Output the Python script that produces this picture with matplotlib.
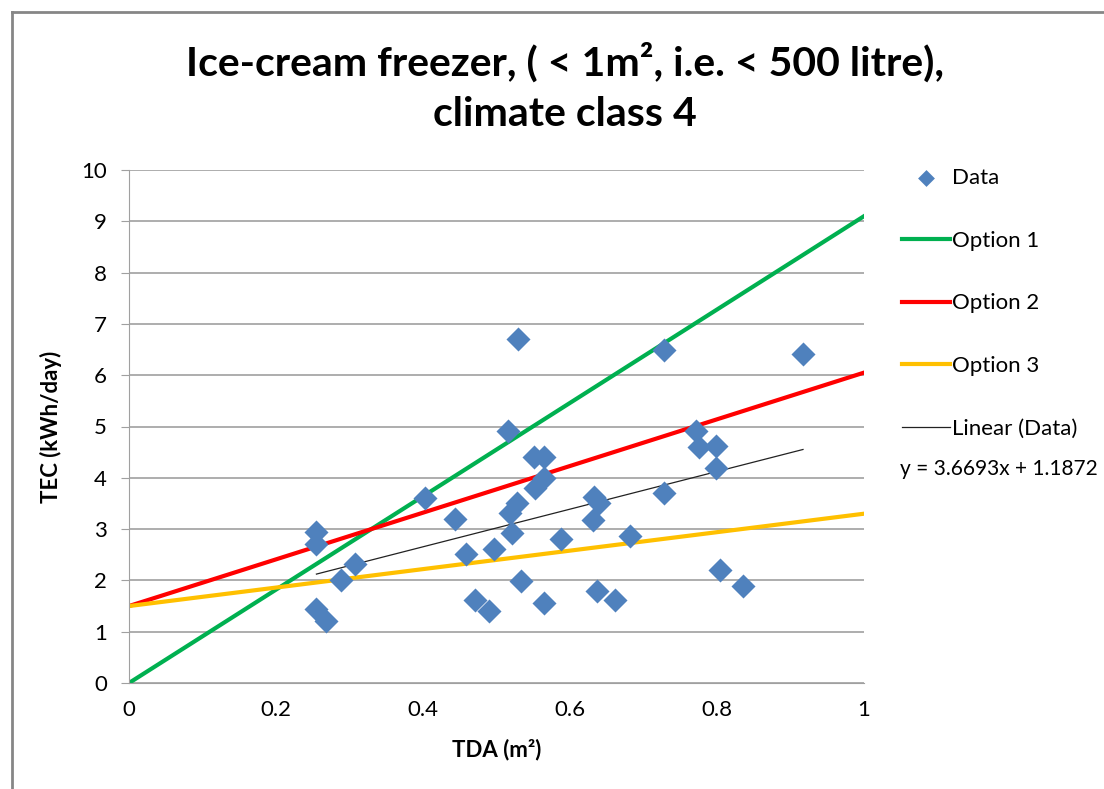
import matplotlib.pyplot as plt
from matplotlib.lines import Line2D

# TDA (m2) and TEC (kWh/day)
tda = [0.529, 0.516, 0.551, 0.565, 0.564, 0.552, 0.403, 0.528, 0.518, 0.632,
       0.639, 0.631, 0.4435, 0.521, 0.255, 0.255, 0.588, 0.3075, 0.458, 0.4966,
       0.288, 0.534, 0.255, 0.268, 0.471, 0.490, 0.565, 0.637, 0.661,
       0.728, 0.917, 0.771, 0.776, 0.799, 0.798, 0.728, 0.682, 0.804, 0.835]
tec = [6.71, 4.92, 4.41, 4.41, 4.00, 3.81, 3.61, 3.51, 3.32, 3.63,
       3.50, 3.18, 3.20, 2.93, 2.94, 2.71, 2.80, 2.32, 2.51, 2.62,
       2.01, 1.99, 1.44, 1.21, 1.62, 1.41, 1.55, 1.80, 1.62,
       6.49, 6.41, 4.92, 4.61, 4.62, 4.20, 3.71, 2.87, 2.20, 1.89]

# option lines, end points at TDA = 0 and 1
opt_x = [0, 1]
opt1_y = [0.0, 9.1]
opt2_y = [1.5, 6.05]
opt3_y = [1.5, 3.3]

# Excel linear trendline
slope, intercept = 3.6693, 1.1872

plt.rcParams['font.family'] = ['Lato', 'DejaVu Sans']

fig = plt.figure(figsize=(11.04, 7.89), dpi=100)
ax = fig.add_axes([129 / 1104, 1 - 683 / 789, 735 / 1104, 513 / 789])

ax.plot(opt_x, opt1_y, color='#00b050', lw=3, label='Option 1', zorder=2)
ax.plot(opt_x, opt2_y, color='#ff0000', lw=3, label='Option 2', zorder=2)
ax.plot(opt_x, opt3_y, color='#ffc000', lw=3, label='Option 3', zorder=2)

tx = [min(tda), max(tda)]
ty = [slope * v + intercept for v in tx]
ax.plot(tx, ty, color='#222222', lw=0.9, label='Linear (Data)', zorder=3)

ax.scatter(tda, tec, marker='D', s=150, color='#4f81bd', linewidths=0,
           label='Data', zorder=4)

ax.set_xlim(0, 1)
ax.set_ylim(0, 10)
ax.set_xticks([0, 0.2, 0.4, 0.6, 0.8, 1])
ax.set_xticklabels(['0', '0.2', '0.4', '0.6', '0.8', '1'])
ax.set_yticks(range(0, 11))
ax.grid(axis='y', color='#a0a0a0', lw=1.2)
ax.set_axisbelow(True)
for s in ['top', 'right']:
    ax.spines[s].set_visible(False)
ax.spines['left'].set_color('#a0a0a0')
ax.spines['bottom'].set_color('#a0a0a0')
ax.tick_params(axis='y', length=6, color='#a0a0a0', labelsize=16, pad=10)
ax.tick_params(axis='x', length=0, labelsize=16, pad=12)

ax.set_xlabel('TDA (m²)', fontsize=16, fontweight='bold', labelpad=14)
ax.set_ylabel('TEC (kWh/day)', fontsize=16, fontweight='bold', labelpad=14)

fig.text(565 / 1104, 1 - 62 / 789, 'Ice-cream freezer, ( < 1m², i.e. < 500 litre),',
         ha='center', va='center', fontsize=29.5, fontweight='bold')
fig.text(565 / 1104, 1 - 114 / 789, 'climate class 4',
         ha='center', va='center', fontsize=29.5, fontweight='bold')

handles, labels = ax.get_legend_handles_labels()
order = [4, 0, 1, 2, 3]
ax.legend([handles[i] for i in order], [labels[i] for i in order],
          loc='upper left', bbox_to_anchor=(891 / 1104, 1 - 157 / 789),
          bbox_transform=fig.transFigure, frameon=False, fontsize=16,
          labelspacing=1.92, handlelength=2.15, handletextpad=0.1,
          borderpad=0, scatterpoints=1, markerscale=0.7)

fig.text(900 / 1104, 1 - 469 / 789, 'y = 3.6693x + 1.1872', ha='left',
         va='center', fontsize=15)

# chart area border (cropped on right and bottom)
fig.add_artist(Line2D([11.5 / 1104, 1], [1 - 11.5 / 789, 1 - 11.5 / 789],
                      transform=fig.transFigure, color='#868686', lw=2))
fig.add_artist(Line2D([11.5 / 1104, 11.5 / 1104], [0, 1 - 11.5 / 789],
                      transform=fig.transFigure, color='#868686', lw=2))

fig.savefig('out.png', dpi=100)
